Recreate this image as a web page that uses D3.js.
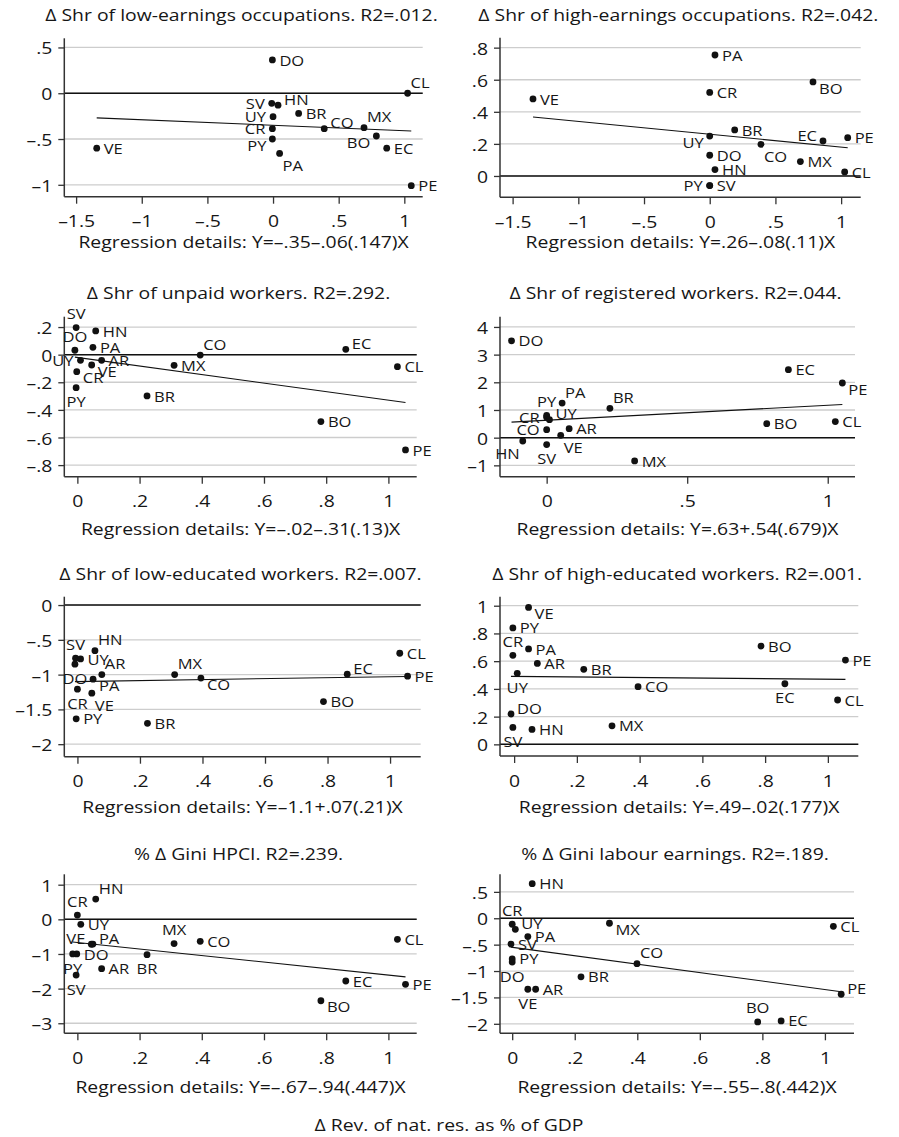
<!DOCTYPE html>
<html>
<head>
<meta charset="utf-8">
<script src="https://cdn.jsdelivr.net/npm/d3@7"></script>
<style>
  body { margin: 0; background: #fff; }
  svg { display: block; }
  text { font-family: "Open Sans", sans-serif; fill: #161616; }
</style>
</head>
<body>
<svg id="chart" width="899" height="1137"></svg>
<script>
// Country observations per outcome: [country, Δ revenue of natural resources (% GDP), Δ outcome]
const lowEarnOcc = [
  ["BO", 0.787, -0.467], ["BR", 0.195, -0.22], ["CL", 1.025, 0.0], ["CO", 0.39, -0.387],
  ["CR", -0.005, -0.387], ["DO", -0.005, 0.364], ["EC", 0.866, -0.60], ["HN", 0.038, -0.13],
  ["MX", 0.693, -0.376], ["PA", 0.05, -0.657], ["PE", 1.053, -1.01], ["PY", -0.005, -0.50],
  ["SV", -0.01, -0.11], ["UY", 0.0, -0.256], ["VE", -1.343, -0.60]
];
const highEarnOcc = [
  ["BO", 0.786, 0.586], ["BR", 0.19, 0.287], ["CL", 1.027, 0.025], ["CO", 0.39, 0.197],
  ["CR", 0.0, 0.521], ["DO", 0.0, 0.129], ["EC", 0.862, 0.218], ["HN", 0.04, 0.04],
  ["MX", 0.69, 0.09], ["PA", 0.04, 0.754], ["PE", 1.05, 0.239], ["PY", 0.0, -0.06],
  ["SV", 0.0, -0.06], ["UY", 0.0, 0.249], ["VE", -1.345, 0.48]
];
const unpaidWorkers = [
  ["AR", 0.078, -0.041], ["BO", 0.783, -0.485], ["BR", 0.224, -0.299], ["CL", 1.029, -0.087],
  ["CO", 0.395, -0.003], ["CR", -0.002, -0.123], ["DO", -0.008, 0.032], ["EC", 0.863, 0.039],
  ["HN", 0.059, 0.172], ["MX", 0.311, -0.077], ["PA", 0.05, 0.053], ["PE", 1.055, -0.69],
  ["PY", -0.004, -0.239], ["SV", -0.004, 0.196], ["UY", 0.01, -0.041], ["VE", 0.046, -0.075]
];
const registeredWorkers = [
  ["AR", 0.08, 0.325], ["BO", 0.783, 0.505], ["BR", 0.225, 1.06], ["CL", 1.027, 0.58],
  ["CO", 0.0, 0.29], ["CR", 0.0, 0.74], ["DO", -0.125, 3.50], ["EC", 0.86, 2.455],
  ["HN", -0.085, -0.12], ["MX", 0.313, -0.84], ["PA", 0.055, 1.25], ["PE", 1.052, 1.975],
  ["PY", 0.0, 0.80], ["SV", 0.0, -0.25], ["UY", 0.01, 0.65], ["VE", 0.05, 0.085]
];
const lowEduWorkers = [
  ["AR", 0.078, -1.0], ["BO", 0.787, -1.387], ["BR", 0.224, -1.70], ["CL", 1.031, -0.693],
  ["CO", 0.395, -1.05], ["CR", 0.0, -1.21], ["DO", -0.008, -0.85], ["EC", 0.863, -0.995],
  ["HN", 0.056, -0.656], ["MX", 0.311, -1.0], ["PA", 0.05, -1.066], ["PE", 1.056, -1.023],
  ["PY", -0.004, -1.636], ["SV", -0.006, -0.765], ["UY", 0.01, -0.775], ["VE", 0.046, -1.267]
];
const highEduWorkers = [
  ["AR", 0.074, 0.584], ["BO", 0.787, 0.709], ["BR", 0.222, 0.541], ["CL", 1.031, 0.32],
  ["CO", 0.395, 0.416], ["CR", -0.004, 0.642], ["DO", -0.01, 0.219], ["EC", 0.863, 0.437],
  ["HN", 0.057, 0.108], ["MX", 0.312, 0.134], ["PA", 0.046, 0.688], ["PE", 1.056, 0.608],
  ["PY", -0.004, 0.84], ["SV", -0.004, 0.122], ["UY", 0.01, 0.512], ["VE", 0.046, 0.988]
];
const giniHpci = [
  ["AR", 0.078, -1.425], ["BO", 0.783, -2.35], ["BR", 0.224, -1.02], ["CL", 1.029, -0.577],
  ["CO", 0.395, -0.635], ["CR", 0.0, 0.124], ["DO", -0.002, -1.0], ["EC", 0.863, -1.78],
  ["HN", 0.059, 0.586], ["MX", 0.311, -0.70], ["PA", 0.05, -0.713], ["PE", 1.055, -1.876],
  ["PY", -0.015, -1.0], ["SV", -0.004, -1.61], ["UY", 0.011, -0.144], ["VE", 0.045, -0.72]
];
const giniLabour = [
  ["AR", 0.075, -1.345], ["BO", 0.785, -1.964], ["BR", 0.22, -1.11], ["CL", 1.027, -0.152],
  ["CO", 0.399, -0.86], ["CR", 0.0, -0.114], ["DO", 0.0, -0.83], ["EC", 0.86, -1.945],
  ["HN", 0.064, 0.655], ["MX", 0.311, -0.095], ["PA", 0.05, -0.348], ["PE", 1.052, -1.44],
  ["PY", 0.0, -0.77], ["SV", -0.004, -0.49], ["UY", 0.01, -0.21], ["VE", 0.05, -1.345]
];

// Panel titles, fit statistics [R2, intercept, slope, s.e.]
const titles = [
  "Δ Shr of low-earnings occupations", "Δ Shr of high-earnings occupations",
  "Δ Shr of unpaid workers", "Δ Shr of registered workers",
  "Δ Shr of low-educated workers", "Δ Shr of high-educated workers",
  "% Δ Gini HPCI", "% Δ Gini labour earnings"
];
const fits = [
  [0.012, -0.35, -0.06, 0.147], [0.042, 0.26, -0.08, 0.11],
  [0.292, -0.02, -0.31, 0.13], [0.044, 0.63, 0.54, 0.679],
  [0.007, -1.1, 0.07, 0.21], [0.001, 0.49, -0.02, 0.177],
  [0.239, -0.67, -0.94, 0.447], [0.189, -0.55, -0.8, 0.442]
];

// Axis ticks and axis ranges
const xTicksWide = [-1.5, -1, -0.5, 0, 0.5, 1];
const xTicksFine = [0, 0.2, 0.4, 0.6, 0.8, 1];
const xTicksHalf = [0, 0.5, 1];
const yTicks = [
  [0.5, 0, -0.5, -1], [0, 0.2, 0.4, 0.6, 0.8],
  [0.2, 0, -0.2, -0.4, -0.6, -0.8], [4, 3, 2, 1, 0, -1],
  [0, -0.5, -1, -1.5, -2], [1, 0.8, 0.6, 0.4, 0.2, 0],
  [1, 0, -1, -2, -3], [0.5, 0, -0.5, -1, -1.5, -2]
];
const xDomains = [
  [-1.59, 1.14], [-1.596, 1.149], [-0.042, 1.091], [-0.166, 1.097],
  [-0.042, 1.098], [-0.045, 1.097], [-0.042, 1.091], [-0.039, 1.093]
];
const yDomains = [
  [-1.13, 0.6], [-0.133, 0.862], [-0.884, 0.275], [-1.41, 4.37],
  [-2.18, 0.12], [-0.084, 1.065], [-3.29, 1.30], [-2.18, 0.833]
];

const series = [lowEarnOcc, highEarnOcc, unpaidWorkers, registeredWorkers,
                lowEduWorkers, highEduWorkers, giniHpci, giniLabour];
const xTickSets = [xTicksWide, xTicksWide, xTicksFine, xTicksHalf,
                   xTicksFine, xTicksFine, xTicksFine, xTicksFine];

// Marker label placement as clock positions
const labelClock = [
  {BO:8, BR:3, CL:1, CO:2, CR:9, DO:3, EC:3, HN:2, MX:1, PA:5, PE:3, PY:8, SV:9, UY:9, VE:3},
  {BO:4, BR:3, CL:3, CO:5, CR:3, DO:3, EC:10, HN:3, MX:3, PA:3, PE:3, PY:9, SV:3, UY:8, VE:3},
  {AR:3, BO:3, BR:3, CL:3, CO:1, CR:4, DO:12, EC:2, HN:3, MX:3, PA:3, PE:3, PY:6, SV:12, UY:9, VE:4},
  {AR:3, BO:3, BR:1, CL:3, CO:9, CR:9, DO:3, EC:3, HN:7, MX:3, PA:1, PE:4, PY:12, SV:6, UY:2, VE:5},
  {AR:1, BO:3, BR:3, CL:3, CO:4, CR:6, DO:6, EC:2, HN:1, MX:1, PA:4, PE:3, PY:3, SV:12, UY:3, VE:5},
  {AR:3, BO:3, BR:3, CL:3, CO:3, CR:12, DO:2, EC:6, HN:3, MX:3, PA:3, PE:3, PY:3, SV:6, UY:6, VE:4},
  {AR:3, BO:4, BR:6, CL:3, CO:3, CR:12, DO:3, EC:3, HN:1, MX:12, PA:2, PE:3, PY:6, SV:6, UY:3, VE:10},
  {AR:3, BO:12, BR:3, CL:3, CO:1, CR:12, DO:6, EC:3, HN:3, MX:4, PA:3, PE:2, PY:3, SV:3, UY:2, VE:6}
];

// Page layout: plot boxes and text rows
const boxes = [
  {l: 64.3, r: 422.7, t: 38.3, b: 196.7}, {l: 500, r: 860.7, t: 37.7, b: 197.3},
  {l: 64.3, r: 416.7, t: 316.7, b: 476.7}, {l: 500, r: 855, t: 316.7, b: 476.7},
  {l: 64.3, r: 420.7, t: 596.7, b: 756.7}, {l: 500, r: 858.3, t: 596.7, b: 756},
  {l: 64.3, r: 416.7, t: 874.3, b: 1033.3}, {l: 500, r: 854, t: 874.3, b: 1033.3}
];
const titleY = [14, 292.5, 573.3, 853.3];
const detailY = [241, 528, 806.7, 1086];

const SX = 1.14;          // horizontal stretch of lettering
const FONT = 17, LABEL_FONT = 14.5;

const svg = d3.select("#chart");

function fmt(v) {
  let s = String(parseFloat(v.toFixed(3)));
  s = s.replace(/^(-?)0\./, "$1.");
  return s.replace("-", "\u2013");
}

function txt(g, x, y, s, size, anchor) {
  return g.append("text")
    .attr("transform", `translate(${x},${y}) scale(${SX},1)`)
    .attr("text-anchor", anchor || "middle")
    .attr("dominant-baseline", "central")
    .style("font-size", size + "px")
    .text(s);
}

const clockOffset = {
  1: [3, -11, "start"], 2: [6, -6, "start"], 3: [7, 0, "start"], 4: [6, 6, "start"],
  5: [3, 12, "start"], 6: [0, 14, "middle"], 7: [-3, 12, "end"], 8: [-6, 6, "end"],
  9: [-7, 0, "end"], 10: [-6, -6, "end"], 11: [-3, -11, "end"], 12: [0, -14, "middle"]
};

series.forEach((data, i) => {
  const box = boxes[i];
  const row = Math.floor(i / 2);
  const [r2, a, b, se] = fits[i];
  const x = d3.scaleLinear().domain(xDomains[i]).range([box.l, box.r]);
  const y = d3.scaleLinear().domain(yDomains[i]).range([box.b, box.t]);
  const g = svg.append("g");
  const cx = (box.l + box.r) / 2;

  // title
  txt(g, cx - 2, titleY[row], `${titles[i]}. R2=${fmt(r2)}.`, FONT);

  // gridlines
  g.selectAll(".grid").data(yTicks[i]).join("line")
    .attr("x1", box.l).attr("x2", box.r)
    .attr("y1", d => y(d)).attr("y2", d => y(d))
    .attr("stroke", "#cdcdcd").attr("stroke-width", 1.3);

  // zero reference line
  g.append("line")
    .attr("x1", box.l).attr("x2", box.r)
    .attr("y1", y(0)).attr("y2", y(0))
    .attr("stroke", "#111").attr("stroke-width", 1.5);

  // y axis
  const yAxis = g.append("g").attr("transform", `translate(${box.l},0)`)
    .call(d3.axisLeft(y).tickValues(yTicks[i]).tickSize(6).tickPadding(6).tickFormat(fmt));
  yAxis.select(".domain").attr("d", `M0,${box.t}V${box.b}`).attr("stroke", "#333").attr("stroke-width", 1.5);
  yAxis.selectAll(".tick line").attr("stroke", "#333").attr("stroke-width", 1.3);
  yAxis.selectAll(".tick text").remove();
  yAxis.selectAll(".tick").each(function (d) {
    txt(d3.select(this), -12, 0, fmt(d), FONT, "end");
  });

  // x axis
  const xAxis = g.append("g").attr("transform", `translate(0,${box.b})`)
    .call(d3.axisBottom(x).tickValues(xTickSets[i]).tickSize(7).tickFormat(fmt));
  xAxis.select(".domain").attr("d", `M${box.l},0H${box.r}`).attr("stroke", "#333").attr("stroke-width", 1.5);
  xAxis.selectAll(".tick line").attr("stroke", "#333").attr("stroke-width", 1.3);
  xAxis.selectAll(".tick text").remove();
  xAxis.selectAll(".tick").each(function (d) {
    txt(d3.select(this), 0, 24, fmt(d), FONT, "middle");
  });

  // fitted line over the observed range
  const [xMin, xMax] = d3.extent(data, d => d[1]);
  g.append("line")
    .attr("x1", x(xMin)).attr("y1", y(a + b * xMin))
    .attr("x2", x(xMax)).attr("y2", y(a + b * xMax))
    .attr("stroke", "#111").attr("stroke-width", 1.1);

  // markers
  g.selectAll(".pt").data(data).join("circle")
    .attr("cx", d => x(d[1])).attr("cy", d => y(d[2])).attr("r", 3.4)
    .attr("fill", "#111");

  // marker labels
  data.forEach(d => {
    const [dx, dy, anchor] = clockOffset[labelClock[i][d[0]] || 3];
    txt(g, x(d[1]) + dx, y(d[2]) + dy, d[0], LABEL_FONT, anchor);
  });

  // regression details
  const slope = (b < 0 ? "\u2013" : "+") + fmt(Math.abs(b));
  txt(g, cx, detailY[row], `Regression details: Y=${fmt(a)}${slope}(${fmt(se)})X`, FONT);
});

// shared x-axis title
txt(svg, 449, 1124, "Δ Rev. of nat. res. as % of GDP", FONT);
</script>
</body>
</html>
